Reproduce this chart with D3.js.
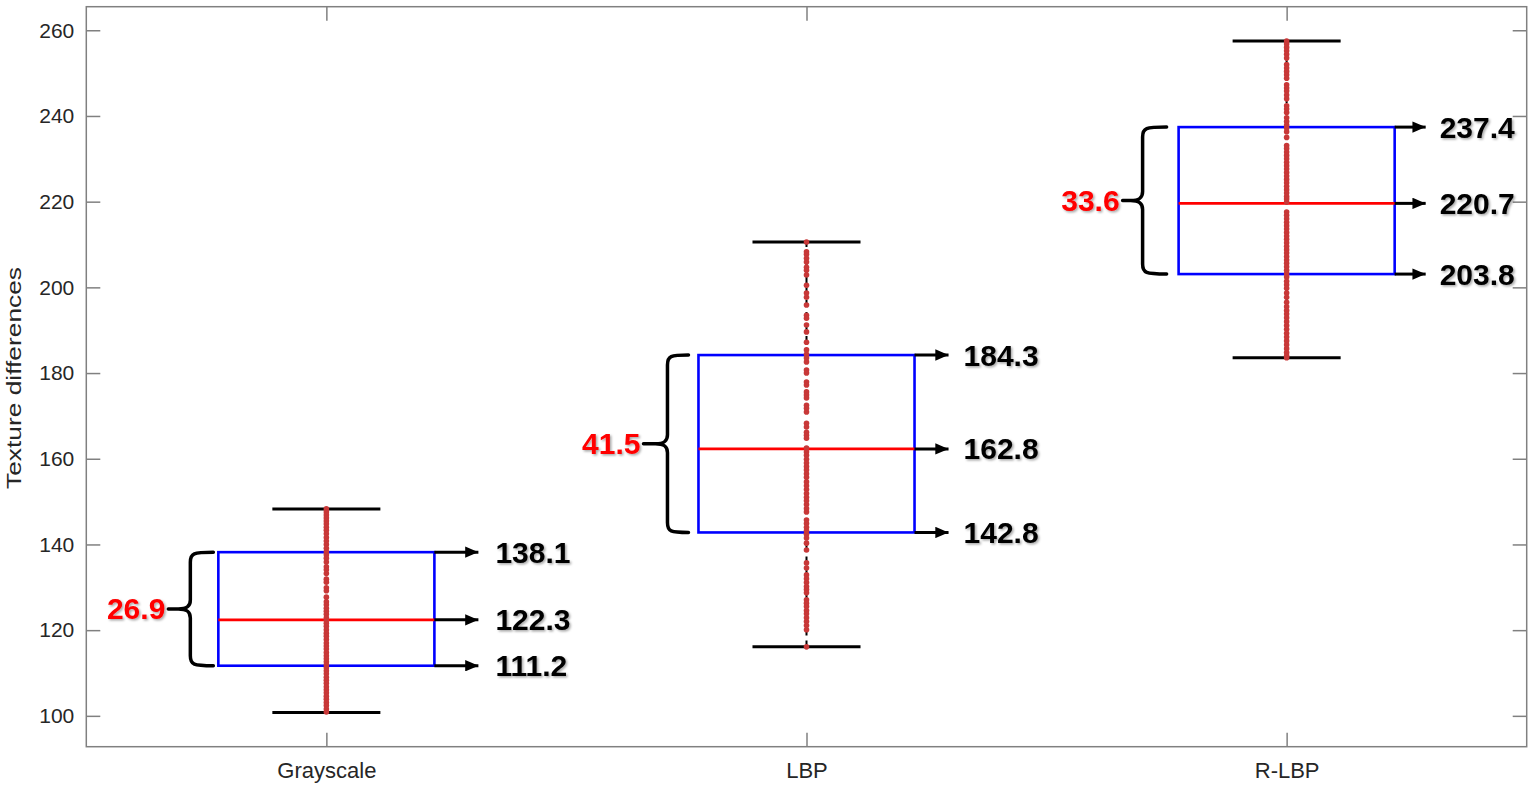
<!DOCTYPE html>
<html>
<head>
<meta charset="utf-8">
<script src="https://cdn.jsdelivr.net/npm/d3@7"></script>
<style>
  html, body { margin: 0; padding: 0; background: #fff; }
  svg { display: block; }
  text { font-family: "Liberation Sans", Arial, sans-serif; }
</style>
</head>
<body>
<svg id="chart" width="1535" height="787"></svg>
<script>
// ---------------- data ----------------
const categories = ["Grayscale", "LBP", "R-LBP"];
const q1Values = [111.7, 142.8, 203.1];
const medianValues = [122.4, 162.3, 219.6];
const q3Values = [138.2, 184.2, 237.4];
const whiskerLow = [100.8, 116.1, 183.6];
const whiskerHigh = [148.3, 210.6, 257.5];
const q1Labels = ["111.2", "142.8", "203.8"];
const medianLabels = ["122.3", "162.8", "220.7"];
const q3Labels = ["138.1", "184.3", "237.4"];
const iqrLabels = ["26.9", "41.5", "33.6"];
const yTickValues = [100, 120, 140, 160, 180, 200, 220, 240, 260];

const pointsGrayscale = [148.3, 147.6, 146.9, 146.2, 145.5, 144.8, 144.0, 143.3, 142.5, 141.6,
  140.8, 140.0, 139.1, 138.3, 137.6, 136.8, 135.9, 134.8, 134.1, 133.2, 131.9, 131.2, 129.9,
  129.2, 127.7, 126.6, 125.9, 125.1, 124.4, 123.7, 122.9, 122.3, 121.6, 120.9, 120.1, 119.3,
  118.6, 117.8, 117.0, 116.3, 115.6, 114.8, 114.0, 113.3, 112.6, 111.9, 111.2, 110.5, 109.8,
  109.0, 108.3, 107.6, 106.8, 106.1, 105.4, 104.6, 103.9, 103.1, 102.4, 101.6, 100.9];
const pointsLBP = [210.6, 208.3, 207.7, 206.8, 205.9, 204.7, 204.0, 202.9, 200.5, 198.7, 197.7,
  195.9, 193.5, 192.8, 191.2, 189.6, 187.2, 185.4, 184.4, 183.5, 182.6, 180.7, 180.0, 177.9,
  177.2, 175.6, 174.9, 174.2, 172.5, 171.8, 170.9, 168.3, 167.4, 166.2, 165.5, 164.8, 162.5,
  161.6, 160.8, 159.9, 159.0, 158.2, 157.4, 156.5, 155.7, 154.6, 153.7, 152.8, 151.9, 151.0,
  150.2, 149.3, 148.4, 147.6, 145.7, 144.9, 144.0, 143.2, 142.4, 141.5, 140.3, 138.7, 135.7,
  134.5, 132.9, 132.0, 131.1, 130.2, 129.5, 128.7, 127.1, 126.3, 125.5, 124.6, 123.8, 122.9,
  122.0, 121.1, 120.1, 116.1];
const pointsRLBP = [257.5, 256.8, 256.0, 255.2, 254.4, 253.5, 252.0, 251.2, 250.4, 249.6, 248.8,
  247.3, 246.5, 245.8, 244.9, 244.0, 242.4, 241.6, 240.8, 239.6, 238.7, 237.9, 237.2, 236.3,
  235.0, 233.1, 232.4, 231.6, 230.8, 230.0, 229.2, 228.4, 227.6, 226.8, 226.0, 225.2, 224.4,
  223.6, 222.8, 222.0, 221.2, 220.6, 219.9, 217.6, 216.8, 216.0, 215.2, 214.4, 213.6, 212.8,
  212.0, 211.2, 210.4, 209.6, 208.8, 208.0, 207.2, 206.4, 205.6, 204.8, 204.0, 203.2, 202.4,
  201.4, 200.6, 199.8, 198.7, 197.7, 196.5, 195.5, 194.6, 193.8, 192.9, 192.0, 191.1, 190.2,
  189.3, 188.4, 187.5, 186.6, 185.7, 184.8, 184.0, 183.6];
const pointSets = [pointsGrayscale, pointsLBP, pointsRLBP];

// ---------------- layout ----------------
const svg = d3.select("#chart");
const plotLeft = 86.3, plotRight = 1526.7, plotTop = 6.7, plotBottom = 746.7;
const x = d3.scaleLinear().domain([0.5, 3.5]).range([plotLeft, plotRight]);
const y = d3.scaleLinear().domain([92.8, 265.5]).range([plotBottom, plotTop]);
const boxHalf = 0.225, capHalf = 0.1125;
const axisColor = "#808080", textColor = "#262626";
// annotation placement (pixels relative to box edges), per group
const arrowLen = [44, 34, 31];
const labelGap = [61, 49, 45];
const braceEnd = [5, 10, 12];
const braceStem = [28, 31, 36];
const braceTip = [50, 55, 56];

const defs = svg.append("defs");
const f = defs.append("filter").attr("id", "shadow")
  .attr("x", "-20%").attr("y", "-30%").attr("width", "150%").attr("height", "170%");
f.append("feDropShadow").attr("dx", 1.5).attr("dy", 1.5).attr("stdDeviation", 1)
  .attr("flood-color", "#000").attr("flood-opacity", 0.35);
defs.append("marker").attr("id", "arrow").attr("viewBox", "0 0 10 10")
  .attr("preserveAspectRatio", "none")
  .attr("refX", 10).attr("refY", 5).attr("markerWidth", 4.4).attr("markerHeight", 3.8)
  .attr("orient", "auto").attr("markerUnits", "strokeWidth")
  .append("path").attr("d", "M0,0 L10,5 L0,10 Z").attr("fill", "#000");

// ---------------- axes ----------------
const tickLen = 14;
svg.append("rect").attr("x", plotLeft).attr("y", plotTop)
  .attr("width", plotRight - plotLeft).attr("height", plotBottom - plotTop)
  .attr("fill", "none").attr("stroke", axisColor).attr("stroke-width", 1.5);

const yAxisL = d3.axisLeft(y).tickValues(yTickValues).tickSizeInner(-tickLen).tickSizeOuter(0).tickPadding(12);
const gy = svg.append("g").attr("transform", `translate(${plotLeft},0)`).call(yAxisL);
gy.select(".domain").remove();
gy.selectAll("line").attr("stroke", axisColor).attr("stroke-width", 1.5);
gy.selectAll("text").attr("fill", textColor).attr("font-size", 21)
  .style("font-family", '"Liberation Sans", Arial, sans-serif');

const yAxisR = d3.axisRight(y).tickValues(yTickValues).tickSizeInner(-tickLen).tickSizeOuter(0).tickFormat("");
const gyr = svg.append("g").attr("transform", `translate(${plotRight},0)`).call(yAxisR);
gyr.select(".domain").remove();
gyr.selectAll("line").attr("stroke", axisColor).attr("stroke-width", 1.5);

const xAxisB = d3.axisBottom(x).tickValues([1, 2, 3]).tickSizeInner(-tickLen).tickSizeOuter(0)
  .tickPadding(16).tickFormat((d) => categories[d - 1]);
const gx = svg.append("g").attr("transform", `translate(0,${plotBottom})`).call(xAxisB);
gx.select(".domain").remove();
gx.selectAll("line").attr("stroke", axisColor).attr("stroke-width", 1.5);
gx.selectAll("text").attr("fill", textColor).attr("font-size", 22)
  .style("font-family", '"Liberation Sans", Arial, sans-serif');

const xAxisT = d3.axisTop(x).tickValues([1, 2, 3]).tickSizeInner(-tickLen).tickSizeOuter(0).tickFormat("");
const gxt = svg.append("g").attr("transform", `translate(0,${plotTop})`).call(xAxisT);
gxt.select(".domain").remove();
gxt.selectAll("line").attr("stroke", axisColor).attr("stroke-width", 1.5);

svg.append("text")
  .attr("transform", `translate(21,${(268 + 488) / 2}) rotate(-90)`)
  .attr("text-anchor", "middle").attr("fill", textColor).attr("font-size", 20)
  .attr("textLength", 222).attr("lengthAdjust", "spacingAndGlyphs")
  .text("Texture differences");

// ---------------- boxes ----------------
const idx = d3.range(categories.length);
const gBox = svg.append("g");

idx.forEach((i) => {
  const cx = x(i + 1);
  gBox.append("line").attr("x1", cx).attr("x2", cx).attr("y1", y(q3Values[i])).attr("y2", y(whiskerHigh[i]))
    .attr("stroke", "#000").attr("stroke-width", 2).attr("stroke-dasharray", "7,5");
  gBox.append("line").attr("x1", cx).attr("x2", cx).attr("y1", y(q1Values[i])).attr("y2", y(whiskerLow[i]))
    .attr("stroke", "#000").attr("stroke-width", 2).attr("stroke-dasharray", "7,5");
});

idx.forEach((i) => {
  [whiskerLow[i], whiskerHigh[i]].forEach((v) => {
    gBox.append("line").attr("x1", x(i + 1 - capHalf)).attr("x2", x(i + 1 + capHalf))
      .attr("y1", y(v)).attr("y2", y(v)).attr("stroke", "#000").attr("stroke-width", 3);
  });
});

gBox.selectAll("rect.box").data(idx).join("rect").attr("class", "box")
  .attr("x", (i) => x(i + 1 - boxHalf)).attr("width", (i) => x(i + 1 + boxHalf) - x(i + 1 - boxHalf))
  .attr("y", (i) => y(q3Values[i])).attr("height", (i) => y(q1Values[i]) - y(q3Values[i]))
  .attr("fill", "none").attr("stroke", "#0000ff").attr("stroke-width", 2.6);

gBox.selectAll("line.med").data(idx).join("line").attr("class", "med")
  .attr("x1", (i) => x(i + 1 - boxHalf)).attr("x2", (i) => x(i + 1 + boxHalf))
  .attr("y1", (i) => y(medianValues[i])).attr("y2", (i) => y(medianValues[i]))
  .attr("stroke", "#ff0000").attr("stroke-width", 2.6);

idx.forEach((i) => {
  gBox.append("g").selectAll("circle").data(pointSets[i]).join("circle")
    .attr("cx", x(i + 1)).attr("cy", (v) => y(v)).attr("r", 2.8)
    .attr("fill", "#c83838");
});

// ---------------- annotations ----------------
const gAnn = svg.append("g");
idx.forEach((i) => {
  const bx = x(i + 1 + boxHalf);
  [[q3Values[i], q3Labels[i]], [medianValues[i], medianLabels[i]], [q1Values[i], q1Labels[i]]].forEach(([v, lab]) => {
    const yy = y(v);
    gAnn.append("line").attr("x1", bx).attr("x2", bx + arrowLen[i]).attr("y1", yy).attr("y2", yy)
      .attr("stroke", "#000").attr("stroke-width", 3).attr("marker-end", "url(#arrow)");
    gAnn.append("text").attr("x", bx + labelGap[i]).attr("y", yy + 10.5)
      .attr("font-size", 30).attr("font-weight", "bold").attr("fill", "#000")
      .attr("filter", "url(#shadow)").text(lab);
  });

  const lx = x(i + 1 - boxHalf);
  const yt = y(q3Values[i]), yb = y(q1Values[i]), ym = (yt + yb) / 2;
  const ex = lx - braceEnd[i], vx = lx - braceStem[i], tx = lx - braceTip[i];
  const p = `M${ex},${yt} C${vx + 3},${yt} ${vx},${yt + 1} ${vx},${yt + 10}
    L${vx},${ym - 9} C${vx},${ym - 2} ${vx - 4},${ym} ${vx - 12},${ym} L${tx},${ym}
    M${vx - 12},${ym} C${vx - 4},${ym} ${vx},${ym + 2} ${vx},${ym + 9}
    L${vx},${yb - 10} C${vx},${yb - 1} ${vx + 3},${yb} ${ex},${yb}`;
  gAnn.append("path").attr("d", p).attr("fill", "none").attr("stroke", "#000")
    .attr("stroke-width", 3.5).attr("stroke-linecap", "round");
  gAnn.append("text").attr("x", tx - 3).attr("y", ym + 10.5).attr("text-anchor", "end")
    .attr("font-size", 30).attr("font-weight", "bold").attr("fill", "#ff0000")
    .attr("filter", "url(#shadow)").text(iqrLabels[i]);
});
</script>
</body>
</html>
